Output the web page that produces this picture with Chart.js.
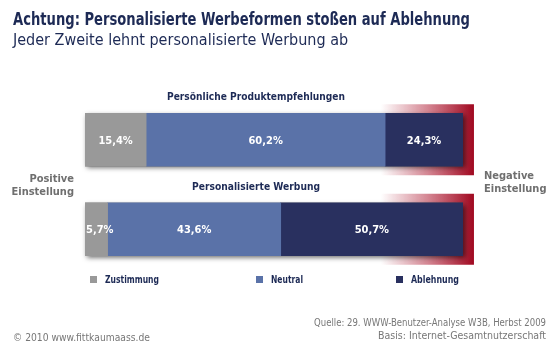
<!DOCTYPE html>
<html>
<head>
<meta charset="utf-8">
<script src="https://cdn.jsdelivr.net/npm/chart.js@4/dist/chart.umd.min.js"></script>
<style>
  body { margin: 0; background: #fff; }
  canvas { display: block; }
</style>
</head>
<body>
<canvas id="chart" width="560" height="350"></canvas>
<script>
// Data
const categories = ['Persönliche Produktempfehlungen', 'Personalisierte Werbung'];
const seriesLabels = ['Zustimmung', 'Neutral', 'Ablehnung'];
const zustimmung = [15.4, 5.7];
const neutral = [60.2, 43.6];
const ablehnung = [24.3, 50.7];
const seriesColors = ['#999999', '#5a72a8', '#29305f'];

// the original cuts the bars off at this value (inside the red frame)
const cutValue = 95.2;

const navy = '#1d2a55';
const grey = '#6f6f6f';
const condensed = '"Liberation Sans Narrow", "DejaVu Sans Condensed", sans-serif';

function fmt(v) {
    return v.toFixed(1).replace('.', ',') + '%';
}

// red glow on the right end of each bar, drop shadow, clipping
const framePlugin = {
    id: 'frame',
    beforeDatasetsDraw(chart) {
        const ctx = chart.ctx;
        const xs = chart.scales.x;
        const x0 = xs.getPixelForValue(0);
        const x1 = xs.getPixelForValue(cutValue);
        chart.getDatasetMeta(0).data.forEach((el) => {
            const h = el.height;
            const top = el.y - h / 2;
            const fl = x1 - 82, fr = x1 + 11;
            const g = ctx.createLinearGradient(fl, 0, fr, 0);
            g.addColorStop(0, 'rgba(170,15,40,0)');
            g.addColorStop(0.5, 'rgba(170,15,40,0.5)');
            g.addColorStop(1, 'rgba(160,8,32,1)');
            ctx.save();
            ctx.fillStyle = g;
            ctx.fillRect(fl, top - 9, fr - fl, h + 18);
            ctx.shadowColor = 'rgba(0,0,0,0.6)';
            ctx.shadowBlur = 5;
            ctx.shadowOffsetX = 2;
            ctx.shadowOffsetY = 2;
            ctx.fillStyle = '#555';
            ctx.fillRect(x0, top, x1 - x0, h);
            ctx.restore();
        });
        ctx.save();
        ctx.beginPath();
        ctx.rect(0, 0, x1, chart.height);
        ctx.clip();
    },
    afterDatasetsDraw(chart) {
        const ctx = chart.ctx;
        ctx.restore();
        const xs = chart.scales.x;
        const x1 = xs.getPixelForValue(cutValue);
        ctx.save();
        ctx.fillStyle = '#fff';
        ctx.font = 'bold 11px ' + condensed;
        ctx.textAlign = 'center';
        ctx.textBaseline = 'middle';
        chart.data.datasets.forEach((ds, d) => {
            chart.getDatasetMeta(d).data.forEach((el, i) => {
                const txt = fmt(ds.data[i]);
                const w = ctx.measureText(txt).width;
                let cx = (Math.min(el.x, x1) + el.base) / 2;
                cx = Math.max(cx, el.base + w / 2 + 1);
                ctx.fillText(txt, cx, el.y + 1);
            });
        });
        // category titles above bars
        ctx.fillStyle = navy;
        ctx.textBaseline = 'alphabetic';
        chart.getDatasetMeta(0).data.forEach((el, i) => {
            ctx.fillText(chart.data.labels[i], 256, el.y - el.height / 2 - 13, i === 0 ? 178 : 128);
        });
        ctx.restore();
    },
    afterDraw(chart) {
        const ctx = chart.ctx;
        ctx.save();
        // title
        ctx.fillStyle = navy;
        ctx.font = 'bold 18px ' + condensed;
        ctx.fillText('Achtung: Personalisierte Werbeformen stoßen auf Ablehnung', 13, 25, 457);
        ctx.font = '16px ' + condensed;
        ctx.fillText('Jeder Zweite lehnt personalisierte Werbung ab', 13, 45, 342);

        // side labels
        ctx.fillStyle = grey;
        ctx.font = 'bold 11px ' + condensed;
        ctx.textAlign = 'right';
        ctx.fillText('Positive', 74, 182);
        ctx.fillText('Einstellung', 74, 195);
        ctx.textAlign = 'left';
        ctx.fillText('Negative', 484, 179);
        ctx.fillText('Einstellung', 484, 192);

        // legend
        const legX = [90, 256, 396];
        ctx.font = 'bold 10px ' + condensed;
        chart.data.datasets.forEach((ds, d) => {
            ctx.fillStyle = ds.backgroundColor;
            ctx.fillRect(legX[d], 276, 7, 7);
            ctx.fillStyle = navy;
            ctx.fillText(ds.label, legX[d] + 15, 283, [54, 32, 48][d]);
        });

        // footer
        ctx.fillStyle = '#777';
        ctx.font = '10.5px ' + condensed;
        ctx.fillText('© 2010 www.fittkaumaass.de', 13, 341, 137);
        ctx.textAlign = 'right';
        ctx.fillText('Quelle: 29. WWW-Benutzer-Analyse W3B, Herbst 2009', 546, 326, 232);
        ctx.fillText('Basis: Internet-Gesamtnutzerschaft', 546, 339);
        ctx.restore();
    }
};

const datasets = [zustimmung, neutral, ablehnung].map((vals, d) => ({
    label: seriesLabels[d],
    data: vals,
    backgroundColor: seriesColors[d],
    borderWidth: 0,
    barThickness: 53
}));

new Chart(document.getElementById('chart').getContext('2d'), {
    type: 'bar',
    data: { labels: categories, datasets: datasets },
    options: {
        indexAxis: 'y',
        responsive: false,
        animation: false,
        devicePixelRatio: 1,
        layout: { padding: { left: 85, right: 78, top: 95, bottom: 76 } },
        scales: {
            x: { stacked: true, min: 0, max: 100, display: false },
            y: { stacked: true, display: false }
        },
        plugins: {
            legend: { display: false },
            tooltip: { enabled: false }
        }
    },
    plugins: [framePlugin]
});
</script>
</body>
</html>
